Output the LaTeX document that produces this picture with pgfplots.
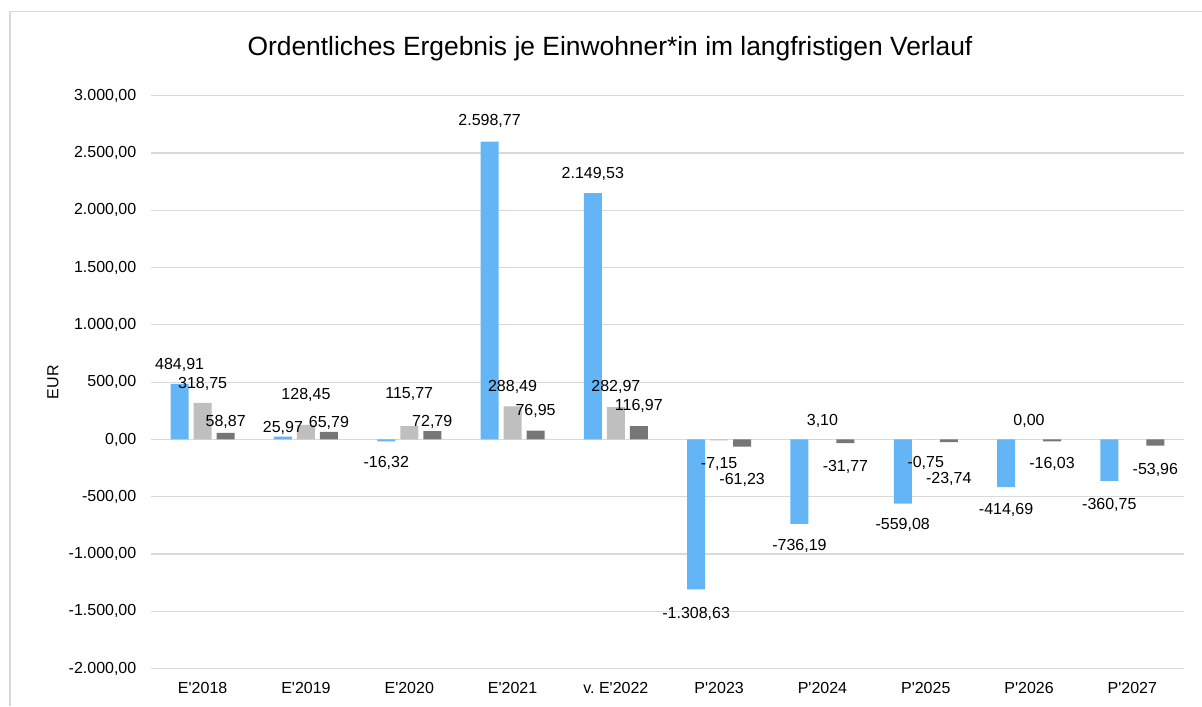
\documentclass[border=0pt]{standalone}
\usepackage{fontspec}
\setmainfont{Liberation Sans}
\usepackage{pgfplots}
\usepackage{pgfplotstable}
\pgfplotsset{compat=1.18}
\definecolor{barblue}{RGB}{100,181,246}
\definecolor{barlight}{RGB}{191,191,191}
\definecolor{bardark}{RGB}{118,118,118}
\definecolor{gridgray}{RGB}{217,217,217}

% x = category index, y = value, dy = label offset from bar end (pt)
\pgfplotstableread{
x y dy
0 484.91 10.3
1 25.97 5
2 -16.32 -10.4
3 2598.77 10.85
4 2149.53 10.3
5 -1308.63 -11.5
6 -736.19 -10.5
7 -559.08 -10.25
8 -414.69 -10.85
9 -360.75 -11.35
}\seriesA
\pgfplotstableread{
x y dy
0 318.75 10.15
1 128.45 15.5
2 115.77 17
3 288.49 10.15
4 282.97 10.5
5 -7.15 -11
6 3.10 9.65
7 -0.75 -11.3
8 0.00 9.85
}\seriesB
\pgfplotstableread{
x y dy
0 58.87 5.9
1 65.79 5.25
2 72.79 5.35
3 76.95 10.5
4 116.97 10.5
5 -61.23 -16.3
6 -31.77 -11.15
7 -23.74 -17.5
8 -16.03 -10.5
9 -53.96 -11.35
}\seriesC

\begin{document}
\begin{tikzpicture}
\useasboundingbox (0,0) rectangle (601pt,353pt);
\draw[gridgray, line width=0.75pt] (5pt,0) -- (5pt,347.15pt) -- (601pt,347.15pt);
\begin{axis}[
  at={(75.5pt,18.65pt)}, anchor=south west,
  scale only axis,
  width=516.5pt, height=286.5pt,
  ybar,
  bar width=9pt,
  xmin=-0.5, xmax=9.5,
  ymin=-2000, ymax=3000,
  ytick={-2000,-1500,...,3000},
  xtick={0,...,9},
  xticklabels={E\textquotesingle 2018,E\textquotesingle 2019,E\textquotesingle 2020,E\textquotesingle 2021,v.\ E\textquotesingle 2022,P\textquotesingle 2023,P\textquotesingle 2024,P\textquotesingle 2025,P\textquotesingle 2026,P\textquotesingle 2027},
  axis line style={draw=none},
  ymajorgrids,
  grid style={gridgray, line width=0.6pt},
  major tick length=0pt,
  tick style={draw=none},
  scaled y ticks=false,
  yticklabel={\pgfmathprintnumber[fixed,fixed zerofill,precision=2,use comma,assume math mode=true]{\tick}},
  every y tick label/.style={font=\fontsize{8}{9.6}\selectfont, anchor=east, inner sep=0pt, xshift=-7.15pt},
  every x tick label/.style={font=\fontsize{8}{9.6}\selectfont, anchor=base, inner sep=0pt, yshift=-12.3pt},
  ylabel={EUR},
  every axis y label/.style={at={(axis description cs:-0.0949,0.5)}, rotate=90, anchor=center, font=\fontsize{8}{9.6}\selectfont},
  title={Ordentliches Ergebnis je Einwohner*in im langfristigen Verlauf},
  every axis title/.style={at={(axis description cs:0.4443,1.0693)}, anchor=base, font=\fontsize{13.2}{15}\selectfont},
  clip=false,
  point meta=y,
  visualization depends on={\thisrow{dy} \as \dy},
  nodes near coords={\pgfmathprintnumber[fixed,fixed zerofill,precision=2,use comma,assume math mode=true]{\pgfplotspointmeta}},
  every node near coord/.append style={font=\fontsize{8}{9.6}\selectfont, anchor=base, inner sep=0pt, yshift=\dy pt-2.9pt, text=black},
]
\addplot[fill=barblue, draw=none, bar shift=-11.5pt] table[x=x,y=y] {\seriesA};
\addplot[fill=barlight, draw=none, bar shift=0pt] table[x=x,y=y] {\seriesB};
\addplot[fill=bardark, draw=none, bar shift=11.5pt] table[x=x,y=y] {\seriesC};
\end{axis}
\end{tikzpicture}
\end{document}
